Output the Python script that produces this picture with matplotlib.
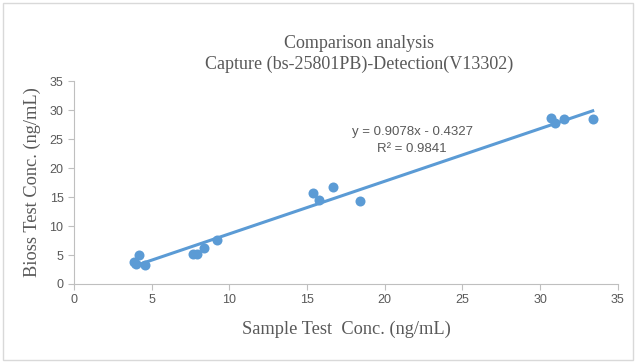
import matplotlib.pyplot as plt
from matplotlib.patches import Rectangle
import numpy as np

# Sample vs Bioss concentration (ng/mL)
sample_conc = [3.85, 3.98, 4.16, 4.58, 7.67, 7.90, 8.35, 9.19,
               15.37, 15.79, 16.68, 18.38, 30.71, 30.97, 31.54, 33.38]
bioss_conc = [3.77, 3.49, 5.03, 3.20, 5.20, 5.09, 6.17, 7.66,
              15.67, 14.47, 16.75, 14.24, 28.64, 27.84, 28.53, 28.53]
slope, intercept = 0.9078, -0.4327
r2 = 0.9841

blue = "#5B9BD5"
gray = "#595959"
serif = ["Liberation Serif", "DejaVu Serif"]
sans = ["Liberation Sans", "DejaVu Sans"]

fig = plt.figure(figsize=(6.37, 3.62), dpi=100)
ax = fig.add_axes([0.116, 0.2155, 0.854, 0.5605])

xs = np.array([min(sample_conc), max(sample_conc)])
ax.plot(xs, slope * xs + intercept, color=blue, linewidth=2.2, zorder=2)
ax.scatter(sample_conc, bioss_conc, s=52, color=blue, zorder=3, linewidths=0)

ax.set_xlim(0, 35)
ax.set_ylim(0, 35)
ax.set_xticks(np.arange(0, 36, 5))
ax.set_yticks(np.arange(0, 36, 5))
for s in ["top", "right"]:
    ax.spines[s].set_visible(False)
for s in ["left", "bottom"]:
    ax.spines[s].set_color("#BFBFBF")
ax.tick_params(colors="#BFBFBF", labelcolor=gray, labelsize=9, length=4)
for lab in ax.get_xticklabels() + ax.get_yticklabels():
    lab.set_family(sans)

ax.set_xlabel("Sample Test  Conc. (ng/mL)", family=serif, fontsize=13.2,
              color=gray, labelpad=10)
ax.set_ylabel("Bioss Test Conc. (ng/mL)", family=serif, fontsize=13.2,
              color=gray, labelpad=6)

fig.text(0.564, 0.881, "Comparison analysis", ha="center", va="center",
         family=serif, fontsize=13, color=gray)
fig.text(0.564, 0.823, "Capture (bs-25801PB)-Detection(V13302)", ha="center",
         va="center", family=serif, fontsize=13, color=gray)

ax.text(21.76, 26.2, f"y = {slope}x - {abs(intercept)}", ha="center", va="center",
        fontsize=9.5, color=gray, family=sans)
ax.text(21.76, 23.3, f"R² = {r2}", ha="center", va="center",
        fontsize=9.5, color=gray, family=sans)

fig.patches.append(Rectangle((0.004, 0.006), 0.99, 0.985, transform=fig.transFigure,
                             fill=False, edgecolor="#D9D9D9", linewidth=1))

fig.savefig("out.png", dpi=100)
